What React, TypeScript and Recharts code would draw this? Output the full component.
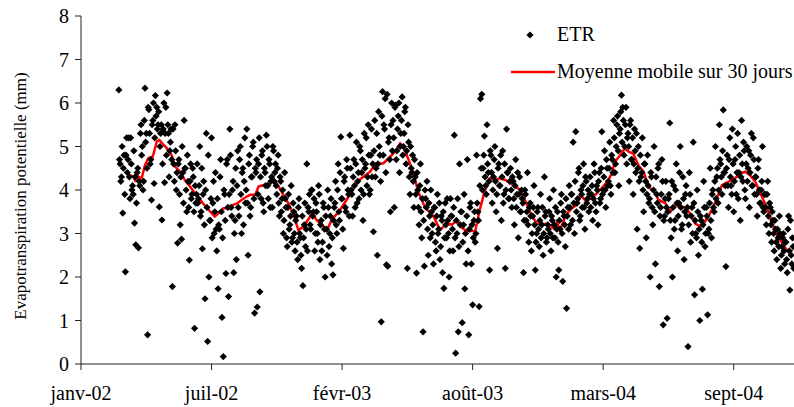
import { ComposedChart, Scatter, Line, XAxis, YAxis, Legend } from "recharts";

const FONT = '"Times New Roman", Times, "Liberation Serif", "DejaVu Serif", "Noto Serif", FreeSerif, serif';

// x = jours depuis le 1er janvier 2002 (graduation tous les 200 jours)
const tickDays = [0, 200, 400, 600, 800, 1000];
const tickLabels = ["janv-02", "juil-02", "févr-03", "août-03", "mars-04", "sept-04"];
const yTicks = [0, 1, 2, 3, 4, 5, 6, 7, 8];

// ETR journalière, jours pairs à partir du jour 58
const etrEvenStart = 58;
const etrEven = [
  6.3, 4.6, 4.3, 3.47, 4.8, 2.12, 5.2, 4.7, 4.3, 5.2, 4.0, 3.9, 3.24, 2.74, 4.4,
  2.67, 4.1, 5.5, 5.0, 4.2, 6.34, 5.3, 0.67, 5.85, 4.6, 3.77, 5.6, 4.15, 6.17, 5.9,
  5.5, 3.61, 5.3, 3.31, 5.4, 4.17, 5.9, 6.23, 5.3, 4.9, 5.4, 1.78, 4.6, 5.5, 4.0,
  2.78, 4.7, 3.2, 2.87, 4.4, 5.6, 4.5, 3.5, 4.2, 2.39, 4.6, 3.9, 4.3, 0.82, 3.7,
  4.6, 3.8, 5.0, 3.5, 2.65, 4.2, 1.5, 5.3, 0.52, 2.0, 3.3, 5.2, 3.7, 3.0, 4.4,
  2.6, 1.73, 3.1, 4.7, 1.07, 0.17, 3.9, 2.08, 4.7, 1.55, 5.4, 3.6, 4.0, 2.1, 3.3,
  2.4, 4.9, 3.4, 5.0, 3.0, 4.5, 4.2, 3.7, 5.4, 2.5, 4.8, 3.6, 4.3, 5.1, 1.17,
  4.4, 1.31, 4.6, 1.66, 3.8, 4.9, 3.5, 4.4, 5.26, 4.1, 4.7, 3.6, 4.3, 5.0, 4.2,
  4.6, 3.9, 4.8, 3.4, 4.2, 3.8, 3.0, 4.4, 3.6, 2.7, 3.9, 3.2, 4.1, 2.9, 3.5,
  2.6, 3.4, 2.4, 3.8, 2.9, 2.2, 1.8, 3.2, 2.7, 4.6, 3.6, 3.9, 3.1, 4.0, 3.5,
  2.6, 3.7, 3.0, 4.1, 2.4, 3.3, 2.8, 3.6, 2.0, 3.1, 4.0, 2.7, 3.4, 2.3, 2.05,
  3.6, 4.2, 3.0, 4.6, 3.3, 5.22, 3.8, 2.66, 4.3, 3.5, 4.5, 3.9, 5.26, 4.0, 3.4,
  4.7, 3.6, 5.1, 4.2, 3.8, 4.9, 4.4, 3.3, 5.3, 4.6, 4.1, 5.5, 3.9, 4.8, 4.3,
  3.04, 5.6, 4.5, 2.5, 5.8, 4.8, 0.97, 6.26, 5.5, 6.1, 2.28, 2.25, 5.2, 3.5, 6.0,
  5.6, 3.6, 5.95, 4.9, 5.7, 4.4, 5.3, 6.14, 5.0, 5.8, 4.6, 2.2, 5.1, 3.9, 4.5,
  4.8, 3.6, 4.3, 2.09, 4.0, 3.2, 4.6, 2.9, 0.74, 2.25, 3.8, 4.2, 2.5, 3.4, 4.0,
  3.0, 2.3, 3.6, 2.6, 3.9, 3.1, 2.4, 3.4, 2.1, 1.74, 3.7, 2.9, 3.3, 2.0, 3.8,
  3.4, 2.6, 5.26, 0.25, 3.0, 0.74, 4.6, 3.5, 0.95, 3.2, 1.73, 2.3, 4.7, 0.67, 3.6,
  2.3, 1.36, 3.3, 2.8, 4.8, 3.5, 1.32, 6.1, 6.2, 4.5, 5.24, 4.1, 5.5, 4.4, 2.16,
  4.8, 3.7, 4.3, 5.0, 3.5, 2.66, 4.6, 4.1, 3.3, 4.9, 3.9, 2.2, 5.4, 4.4, 3.8,
  4.5, 3.6, 4.2, 3.2, 4.7, 3.9, 2.9, 4.3, 3.5, 3.8, 2.1, 4.0, 3.3, 4.4, 2.8,
  3.7, 2.6, 3.4, 4.1, 2.16, 3.0, 3.6, 2.7, 3.9, 3.2, 2.5, 4.3, 3.5, 2.9, 3.1,
  3.8, 2.6, 3.3, 4.0, 2.9, 2.0, 3.5, 2.16, 3.1, 3.9, 1.9, 3.4, 2.7, 1.28, 3.6,
  4.1, 3.2, 3.9, 5.1, 3.0, 5.34, 3.7, 4.4, 3.3, 4.0, 3.6, 4.6, 3.1, 4.2, 3.8,
  3.5, 4.3, 3.9, 3.3, 4.6, 3.7, 4.1, 3.2, 4.4, 3.8, 5.34, 4.0, 4.9, 3.6, 4.5,
  4.2, 5.1, 3.9, 4.7, 5.6, 4.4, 5.0, 5.7, 4.1, 5.4, 6.18, 5.9, 4.8, 5.5, 4.6,
  5.3, 4.2, 5.6, 4.7, 3.9, 5.4, 4.4, 3.1, 5.0, 2.66, 4.3, 5.2, 3.5, 4.6, 2.9,
  4.8, 3.7, 2.0, 4.3, 3.2, 5.0, 2.3, 3.9, 4.5, 1.78, 3.6, 4.7, 0.9, 3.4, 4.2,
  1.05, 3.8, 5.54, 2.9, 2.0, 4.1, 3.3, 4.6, 2.6, 3.7, 5.0, 3.1, 4.3, 2.4, 3.9,
  3.4, 0.4, 4.4, 2.8, 3.6, 5.1, 1.59, 3.0, 4.0, 2.5, 1.0, 3.3, 1.72, 4.2, 2.7,
  3.6, 1.13, 3.1, 4.5, 2.9, 4.0, 3.5, 5.0, 4.3, 3.7, 5.5, 4.6, 3.9, 5.84, 4.4,
  2.24, 4.8, 3.6, 5.2, 4.1, 5.4, 3.5, 4.7, 3.9, 5.3, 4.4, 3.3, 5.6, 4.2, 4.9,
  3.8, 5.0, 4.5, 3.6, 4.8, 4.1, 5.2, 3.9, 4.3, 3.4, 4.7, 3.7, 4.0, 5.0, 3.5,
  3.9, 3.2, 4.2, 3.0, 3.6, 2.8, 3.3, 2.6, 3.1, 2.4, 2.9, 3.4, 2.2, 2.7, 3.0,
  2.3, 2.8, 2.1, 3.4, 1.7, 2.5, 2.9, 2.2,
];

// ETR journalière, jours impairs à partir du jour 59
const etrOddStart = 59;
const etrOdd = [
  4.7, 4.2, 5.0, 4.5, 3.9, 4.8, 4.4, 5.2, 3.8, 4.6, 4.1, 4.9, 4.3, 3.7, 4.5,
  4.2, 5.3, 4.8, 4.0, 5.6, 5.1, 4.5, 5.9, 5.3, 4.7, 5.5, 6.0, 5.2, 5.7, 5.4,
  5.8, 5.0, 5.5, 4.6, 6.0, 5.3, 4.8, 5.5, 4.3, 5.1, 4.7, 5.4, 4.2, 4.9, 4.4,
  4.6, 3.9, 4.3, 5.0, 3.7, 4.5, 4.0, 4.8, 3.6, 4.2, 3.8, 4.5, 3.5, 4.1, 3.9,
  3.7, 4.1, 3.4, 4.5, 3.9, 3.2, 4.0, 3.6, 4.8, 3.3, 3.8, 2.9, 4.2, 3.5, 3.1,
  3.8, 3.2, 4.3, 3.5, 2.9, 4.0, 3.3, 4.6, 3.6, 3.9, 4.8, 3.4, 4.2, 3.0, 4.5,
  4.1, 3.6, 4.7, 3.9, 4.4, 3.2, 5.2, 4.0, 3.7, 4.6, 3.4, 4.3, 5.0, 3.8, 4.5,
  4.7, 3.9, 5.2, 4.3, 4.8, 3.7, 4.5, 4.1, 5.0, 3.8, 4.6, 4.2, 3.6, 4.9, 4.4,
  4.1, 4.5, 3.7, 4.3, 3.5, 4.0, 3.3, 3.8, 2.9, 3.6, 3.1, 3.4, 2.8, 3.7, 3.0,
  3.3, 2.8, 3.6, 3.0, 2.5, 3.4, 2.9, 3.7, 3.1, 2.6, 3.5, 3.2, 4.0, 3.4, 3.8,
  3.0, 3.5, 2.8, 3.9, 3.2, 2.6, 3.7, 3.1, 3.4, 2.5, 3.6, 3.0, 3.8, 2.9, 3.3,
  3.7, 3.2, 4.0, 3.5, 4.4, 3.8, 3.1, 4.2, 3.6, 4.7, 4.0, 3.4, 4.5, 3.9, 4.3,
  4.1, 4.6, 3.7, 4.4, 5.0, 4.0, 4.7, 3.9, 4.5, 5.2, 4.3, 4.8, 4.0, 5.4, 4.6,
  4.9, 4.3, 5.3, 4.6, 5.0, 4.2, 5.7, 4.8, 5.4, 4.4, 6.2, 5.1, 4.7, 5.5, 4.9,
  5.2, 5.9, 4.7, 5.4, 6.0, 5.0, 5.6, 4.8, 5.3, 5.9, 4.9, 5.5, 4.3, 5.0, 4.4,
  4.2, 4.7, 3.9, 4.4, 3.6, 4.1, 3.5, 3.8, 3.3, 4.0, 3.6, 3.1, 3.7, 2.9, 3.5,
  3.2, 3.6, 2.8, 3.4, 3.0, 3.7, 2.7, 3.3, 3.5, 2.9, 3.2, 3.8, 3.0, 2.6, 3.4,
  3.1, 3.6, 2.9, 3.3, 3.8, 2.7, 3.2, 3.5, 2.8, 3.9, 3.0, 3.4, 2.6, 3.1, 3.7,
  3.2, 2.9, 3.5, 3.0, 3.7, 3.3, 4.1, 4.5, 4.0, 4.8, 4.3, 3.9, 4.6, 4.2, 4.9,
  4.4, 4.0, 4.7, 4.2, 3.9, 4.5, 4.1, 4.8, 4.3, 3.7, 4.6, 4.0, 4.4, 3.8, 4.2,
  4.0, 4.3, 3.8, 4.1, 3.6, 4.4, 3.9, 3.5, 4.0, 3.7, 3.3, 3.9, 3.5, 3.2, 3.6,
  3.4, 3.0, 3.6, 3.2, 2.8, 3.5, 3.1, 3.3, 2.9, 3.6, 3.0, 3.4, 2.8, 3.2, 3.5,
  3.0, 3.4, 2.9, 3.2, 3.6, 3.1, 2.8, 3.3, 3.7, 3.0, 3.5, 3.2, 3.8, 3.4, 3.1,
  3.6, 3.9, 3.3, 3.7, 4.2, 3.5, 3.8, 4.5, 3.4, 3.9, 4.1, 3.6, 4.3, 3.7, 4.0,
  3.9, 3.6, 4.1, 3.8, 4.4, 3.5, 4.0, 4.2, 3.7, 4.5, 3.9, 4.3, 4.0, 4.7, 4.1,
  4.5, 4.1, 4.8, 4.4, 5.2, 4.6, 5.5, 4.9, 5.3, 5.8, 5.1, 5.6, 5.0, 5.9, 5.2,
  5.0, 5.5, 4.7, 5.2, 4.6, 4.9, 5.3, 4.5, 4.2, 4.8, 4.4, 4.0, 4.6, 4.2, 3.9,
  4.1, 3.8, 4.4, 3.6, 4.0, 3.5, 4.3, 3.7, 4.6, 3.4, 3.9, 4.2, 3.3, 3.8, 3.6,
  3.5, 3.9, 3.3, 4.2, 3.6, 3.1, 4.0, 3.7, 3.4, 4.4, 3.6, 3.2, 3.8, 3.5, 4.1,
  3.6, 3.2, 3.9, 3.4, 3.0, 3.7, 3.3, 2.9, 3.5, 3.1, 3.4, 2.8, 3.2, 3.6, 3.0,
  3.4, 3.0, 3.7, 3.3, 3.9, 3.6, 4.2, 3.8, 4.5, 4.0, 4.7, 4.3, 4.9, 4.4, 4.1,
  4.5, 4.1, 4.7, 4.3, 3.9, 4.6, 4.2, 5.0, 4.4, 3.8, 4.8, 4.3, 4.6, 5.1, 4.0,
  4.6, 4.2, 4.9, 4.4, 5.3, 4.1, 4.7, 4.3, 3.9, 4.5, 4.0, 3.7, 4.2, 3.6, 3.9,
  3.6, 3.9, 3.4, 3.7, 3.2, 3.5, 3.0, 3.3, 2.8, 3.1, 2.7, 3.0, 2.5, 2.9, 2.6,
  2.8, 2.4, 3.1, 2.6, 3.3, 2.3, 2.7,
];

// moyenne mobile sur 30 jours, relevée le long de la courbe rouge
const maDays = [
  74, 80, 83, 88, 93, 98, 103, 110, 116, 120, 124, 131, 139, 144, 152, 159, 167, 175,
  187, 198, 205, 210, 218, 226, 233, 239, 246, 254, 259, 267, 272, 279, 290, 295, 300,
  310, 318, 325, 333, 341, 354, 361, 377, 384, 397, 410, 423, 433, 443, 451, 463, 474,
  481, 489, 494, 502, 509, 517, 527, 540, 550, 560, 568, 576, 581, 591, 604, 611, 619,
  627, 634, 642, 650, 663, 673, 680, 688, 698, 709, 716, 724, 729, 734, 742, 747, 752,
  760, 765, 772, 783, 790, 800, 808, 813, 818, 826, 833, 839, 846, 854, 862, 867, 872,
  880, 885, 895, 903, 911, 918, 926, 933, 941, 949, 954, 961, 969, 977, 982, 992, 1002,
  1010, 1018, 1025, 1033, 1041, 1051, 1059, 1066, 1076, 1081, 1090,
];
const maValues = [
  4.35, 4.31, 4.22, 4.31, 4.27, 4.57, 4.73, 4.77, 5.11, 5.15, 5.08, 4.97, 4.8, 4.54, 4.42, 4.23, 4.08, 3.92,
  3.69, 3.5, 3.39, 3.46, 3.58, 3.58, 3.66, 3.69, 3.77, 3.85, 3.89, 3.89, 4.08, 4.11, 4.15, 4.23, 4.15,
  3.89, 3.69, 3.46, 3.08, 3.16, 3.46, 3.31, 3.08, 3.31, 3.54, 3.85, 4.19, 4.31, 4.42, 4.61, 4.61, 4.77,
  4.88, 5.07, 5.0, 4.69, 4.38, 3.95, 3.6, 3.4, 3.08, 3.23, 3.2, 3.31, 3.16, 3.05, 3.06, 3.55, 4.0,
  4.27, 4.23, 4.27, 4.23, 4.11, 4.0, 3.77, 3.5, 3.23, 3.22, 3.22, 3.12, 3.26, 3.08, 3.39, 3.5, 3.58,
  3.66, 3.89, 3.77, 3.81, 3.92, 4.08, 4.23, 4.38, 4.65, 4.8, 4.96, 4.88, 4.84, 4.57, 4.42, 4.19, 4.04,
  3.92, 3.77, 3.7, 3.5, 3.66, 3.62, 3.6, 3.46, 3.23, 3.16, 3.23, 3.39, 3.62, 3.92, 4.11, 4.19, 4.27,
  4.38, 4.42, 4.34, 4.19, 3.92, 3.58, 3.23, 2.97, 2.74, 2.62, 2.6,
];

const etrData = [
  ...etrEven.map((v, i) => ({ day: etrEvenStart + i * 2, etr: v })),
  ...etrOdd.map((v, i) => ({ day: etrOddStart + i * 2, etr: v })),
].sort((a, b) => a.day - b.day);
const maData = maDays.map((d, i) => ({ day: d, ma: maValues[i] }));

const Diamond = (props: any) => {
  const { cx, cy } = props;
  const r = 3.6;
  return <path d={`M${cx},${cy - r}L${cx + r},${cy}L${cx},${cy + r}L${cx - r},${cy}Z`} fill="#000" />;
};

const renderLegend = () => (
  <div style={{ fontFamily: FONT, fontSize: 20, color: "#000", whiteSpace: "nowrap" }}>
    <div style={{ display: "flex", alignItems: "center", height: 37 }}>
      <svg width={52} height={12}>
        <path d="M25,2.4L28.6,6L25,9.6L21.4,6Z" fill="#000" />
      </svg>
      <span>ETR</span>
    </div>
    <div style={{ display: "flex", alignItems: "center", height: 37 }}>
      <svg width={52} height={12}>
        <line x1={6} y1={6} x2={50} y2={6} stroke="#ff0000" strokeWidth={2.5} />
      </svg>
      <span>Moyenne mobile sur 30 jours</span>
    </div>
  </div>
);

export default function App() {
  return (
    <div
      style={{
        position: "absolute",
        left: 0,
        top: 0,
        width: 794,
        height: 407,
        overflow: "hidden",
        background: "#fff",
        fontFamily: FONT,
      }}
    >
      <ComposedChart width={800} height={407} margin={{ top: 16, right: 1, bottom: 0, left: 41 }}>
        <XAxis
          dataKey="day"
          type="number"
          domain={[0, 1100]}
          ticks={tickDays}
          tickFormatter={(d: number) => tickLabels[tickDays.indexOf(d)]}
          allowDataOverflow
          height={43}
          tickSize={6}
          tickMargin={16}
          stroke="#222"
          tick={{ fontFamily: FONT, fontSize: 20, fill: "#000" }}
        />
        <YAxis
          type="number"
          domain={[0, 8]}
          ticks={yTicks}
          width={40}
          tickSize={6}
          tickMargin={6}
          stroke="#222"
          tick={{ fontFamily: FONT, fontSize: 20, fill: "#000" }}
          label={{
            value: "Evapotranspiration potentielle (mm)",
            angle: -90,
            position: "center",
            dx: -41,
            dy: 6,
            style: { fontFamily: FONT, fontSize: 17, fill: "#000", textAnchor: "middle" },
          }}
        />
        <Legend
          layout="horizontal"
          verticalAlign="middle"
          align="center"
          content={renderLegend}
          wrapperStyle={{ left: 505, top: 16, width: 300 }}
        />
        <Scatter name="ETR" data={etrData} dataKey="etr" shape={<Diamond />} isAnimationActive={false} />
        <Line
          name="Moyenne mobile sur 30 jours"
          data={maData}
          dataKey="ma"
          type="linear"
          stroke="#ff0000"
          strokeWidth={2.5}
          dot={false}
          isAnimationActive={false}
        />
      </ComposedChart>
    </div>
  );
}
